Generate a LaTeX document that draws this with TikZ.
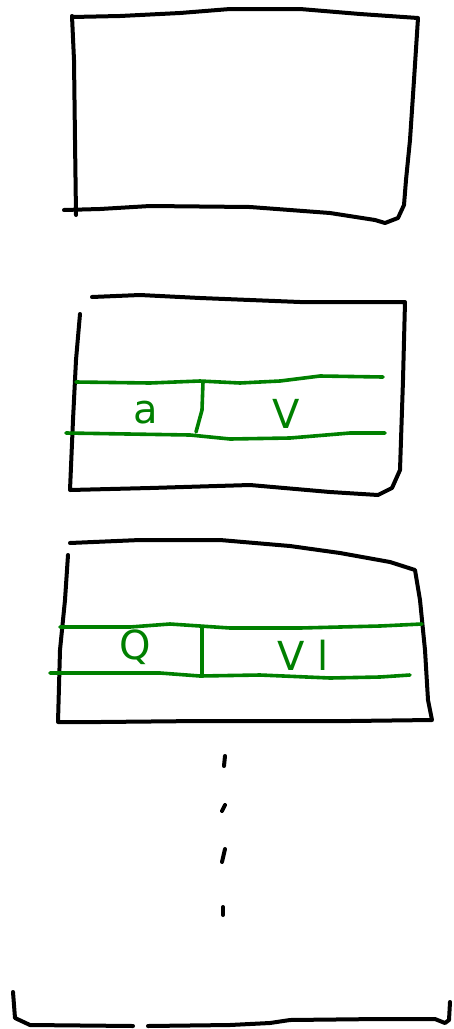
\documentclass[tikz,border=0pt]{standalone}
\usepackage{fontspec}
\setmainfont{DejaVu Sans}
\begin{document}
\begin{tikzpicture}[x=1pt,y=-1pt,
  ink/.style={line width=4pt,line cap=round,line join=round,black},
  gink/.style={line width=3.6pt,line cap=round,line join=round,green!50!black},
  glabel/.style={text=green!50!black,font=\fontsize{40}{40}\selectfont,inner sep=0pt},
  dotmark/.style={line width=4pt,line cap=round,black}]
\useasboundingbox (0,0) rectangle (454,1029);
% Box 1
\draw[ink] (72,16) -- (74,60) -- (75,140) -- (76,215);
\draw[ink] (72,17) -- (120,16) -- (180,13) -- (230,9) -- (300,9) -- (360,14) -- (418,18)
  -- (414,80) -- (410,140) -- (406,180) -- (404,205) -- (398,218) -- (385,223) -- (375,220)
  -- (330,213) -- (250,207) -- (150,206) -- (100,209) -- (64,210);
% Box 2
\draw[ink] (92,297) -- (140,295) -- (200,298) -- (300,302) -- (405,302)
  -- (403,380) -- (400,470) -- (392,488) -- (378,495) -- (330,492) -- (250,485)
  -- (150,488) -- (70,490) -- (73,420) -- (76,360) -- (80,314);
% Band 1
\draw[gink] (76,382) -- (150,383) -- (200,381) -- (240,383) -- (280,381) -- (320,376) -- (383,377);
\draw[gink] (66,433) -- (190,435) -- (230,439) -- (290,438) -- (350,433) -- (385,433);
\draw[gink] (203,382) -- (202,410) -- (196,432);
\node[glabel] (a1) at (146,413) {a};
\node[glabel] (v1) at (286,414) {V};
% Box 3
\draw[ink] (70,543) -- (140,540) -- (220,540) -- (290,546) -- (340,553) -- (390,562) -- (415,570)
  -- (420,600) -- (425,650) -- (428,700) -- (432,720)
  -- (350,721) -- (200,721) -- (100,722) -- (58,722)
  -- (60,650) -- (65,600) -- (68,555);
% Band 2
\draw[gink] (60,627) -- (130,627) -- (170,624) -- (230,628) -- (300,628) -- (380,626) -- (422,624);
\draw[gink] (50,673) -- (160,673) -- (200,676) -- (260,675) -- (330,678) -- (380,677) -- (410,675);
\draw[gink] (202,627) -- (202,675);
\node[glabel] (q2) at (135,647) {Q};
\node[glabel] (v2) at (303,655) {V\,\,l};
% Dots
\draw[dotmark] (225,756) -- (224,766);
\draw[dotmark] (225,805) -- (222,811);
\draw[dotmark] (225,849) -- (222,862);
\draw[dotmark] (223,907) -- (223,915);
% Bottom bracket
\draw[ink] (13,992) -- (15,1018) -- (30,1025) -- (133,1026);
\draw[ink] (148,1026) -- (230,1025) -- (270,1023) -- (290,1020) -- (380,1019) -- (435,1019) -- (445,1023) -- (449,1020) -- (450,1002);
\end{tikzpicture}
\end{document}
